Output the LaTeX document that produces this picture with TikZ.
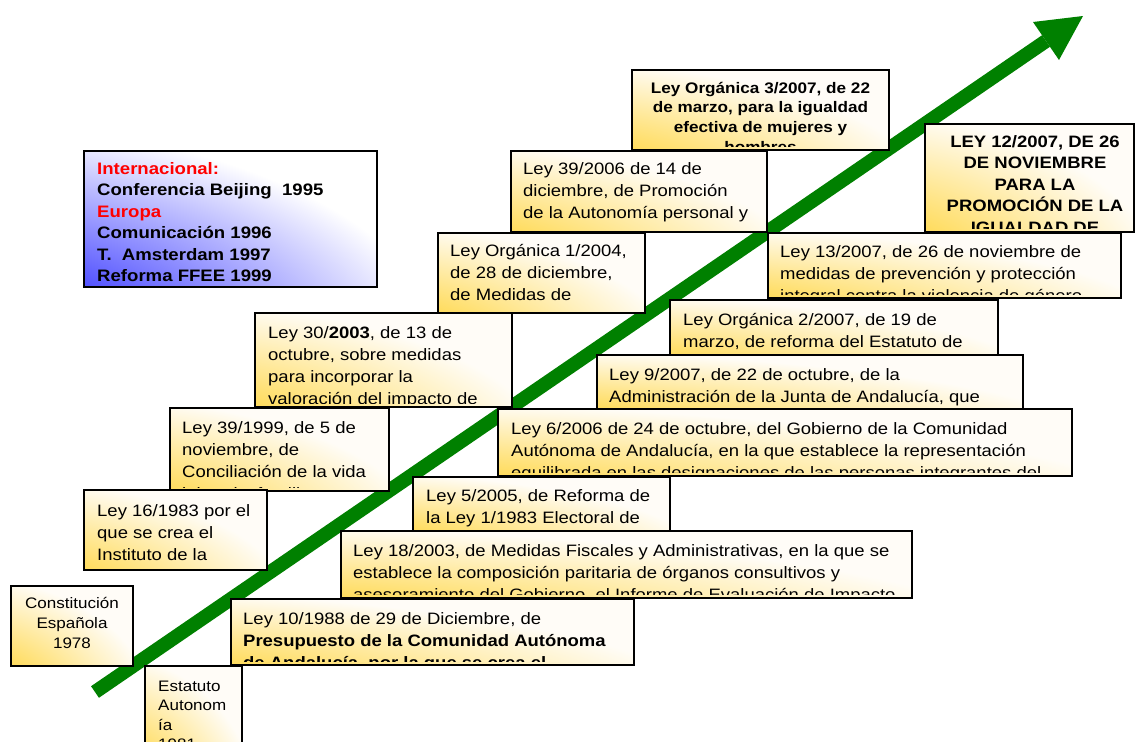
\documentclass[tikz,border=0pt]{standalone}
\usepackage{fontspec}
\setmainfont{Liberation Sans}[FakeStretch=1.12]
\usetikzlibrary{arrows.meta}
\definecolor{arrowgreen}{RGB}{0,128,0}
\definecolor{infored}{RGB}{255,0,0}
% gold glow from the lower left corner to a creamy white
\pgfdeclarefunctionalshading{goldcorner}{\pgfpoint{-50bp}{-50bp}}{\pgfpoint{50bp}{50bp}}{}{
  50 add 100 div dup mul exch 50 add 100 div dup mul add sqrt
  0.75 div 1.1 exch sub dup 0 lt {pop 0} if dup 1 gt {pop 1} if
  dup 0.206 mul 0.99 exch sub exch 0.97 mul 0.97 exch sub 1 3 1 roll}
% blue glow from the lower left corner to white
\pgfdeclarefunctionalshading{bluecorner}{\pgfpoint{-50bp}{-50bp}}{\pgfpoint{50bp}{50bp}}{}{
  50 add 100 div dup mul exch 50 add 100 div dup mul add sqrt
  0.75 div 1.15 exch sub dup 0 lt {pop 0} if dup 1 gt {pop 1} if
  1 exch sub dup 1}
\tikzset{
  boxframe/.style={draw=black, line width=1.6pt, inner sep=0pt, outer sep=0pt},
  lt/.style={anchor=north west, inner sep=0pt, align=left, font=\fontsize{16.5}{22}\selectfont},
  infot/.style={anchor=north west, inner sep=0pt, align=left, font=\bfseries\fontsize{16.6}{21.5}\selectfont},
  ct/.style={anchor=north, inner sep=0pt, align=center},
}
% #1 name, #2 left, #3 top, #4 right, #5 bottom, #6 shading, #7 text style, #8 first baseline point, #9 text
\newcommand\lawbox[9]{%
  \node[boxframe, shading=#6, anchor=north west, minimum width={#4-#2}, minimum height={#5-#3}] (#1) at (#2,#3) {};
  \begin{scope}
    \clip (#2,#3) rectangle (#4,#5-3.5);
    \node[#7, yshift=16pt] (#1-text) at (#8) {\rule{0pt}{16pt}#9};
  \end{scope}}
\begin{document}
\begin{tikzpicture}[x=1pt, y=-1pt]
\fill[white] (0,0) rectangle (1136,742);
\useasboundingbox (0,0) rectangle (1136,742);
% arrow (behind boxes)
\coordinate (astart) at (95,692);
\coordinate (abase) at (1046,41);
\coordinate (atip) at (1083,16);
\draw[arrowgreen, line width=14pt] (astart) -- (abase);
\fill[arrowgreen] (1033,22) -- (atip) -- (1059,60) -- cycle;

\lawbox{info}{84}{151}{377}{287}{bluecorner}{infot}{97,174}{%
{\color{infored}Internacional:}\\
Conferencia Beijing\ \ 1995\\
{\color{infored}Europa}\\
Comunicación 1996\\
T.\ \ Amsterdam 1997\\
Reforma FFEE 1999}

\lawbox{lo3}{632}{70}{889}{150}{goldcorner}{ct, font=\bfseries\fontsize{15.3}{19.7}\selectfont}{760.5,93}{%
Ley Orgánica 3/2007, de 22\\
de marzo, para la igualdad\\
efectiva de mujeres y\\
hombres}

\lawbox{l12}{925}{124}{1134}{232}{goldcorner}{ct, font=\bfseries\fontsize{16.5}{21.5}\selectfont}{1035,147}{%
LEY 12/2007, DE 26\\
DE NOVIEMBRE\\
PARA LA\\
PROMOCIÓN DE LA\\
IGUALDAD DE}

\lawbox{l3906}{511}{151}{767}{232}{goldcorner}{lt}{523,174}{%
Ley 39/2006 de 14 de\\
diciembre, de Promoción\\
de la Autonomía personal y}

\lawbox{lo1}{438}{233}{645}{313}{goldcorner}{lt}{450,256}{%
Ley Orgánica 1/2004,\\
de 28 de diciembre,\\
de Medidas de}

\lawbox{l13}{768}{233}{1121}{298}{goldcorner}{lt}{780,257}{%
Ley 13/2007, de 26 de noviembre de\\
medidas de prevención y protección\\
integral contra la violencia de género}

\lawbox{l30}{255}{313}{512}{407}{goldcorner}{lt}{268,338}{%
Ley 30/\textbf{2003}, de 13 de\\
octubre, sobre medidas\\
para incorporar la\\
valoración del impacto de}

\lawbox{lo2}{670}{300}{998}{355}{goldcorner}{lt}{683,325}{%
Ley Orgánica 2/2007, de 19 de\\
marzo, de reforma del Estatuto de}

\lawbox{l9}{597}{355}{1023}{409}{goldcorner}{lt}{609,380}{%
Ley 9/2007, de 22 de octubre, de la\\
Administración de la Junta de Andalucía, que}

\lawbox{l3999}{170}{408}{389}{491}{goldcorner}{lt}{182,433}{%
Ley 39/1999, de 5 de\\
noviembre, de\\
Conciliación de la vida\\
laboral y familiar}

\lawbox{l6}{498}{409}{1072}{476}{goldcorner}{lt}{511,434}{%
Ley 6/2006 de 24 de octubre, del Gobierno de la Comunidad\\
Autónoma de Andalucía, en la que establece la representación\\
equilibrada en las designaciones de las personas integrantes del}

\lawbox{l16}{84}{490}{267}{570}{goldcorner}{lt}{97,516}{%
Ley 16/1983 por el\\
que se crea el\\
Instituto de la}

\lawbox{l5}{413}{477}{670}{531}{goldcorner}{lt}{426,501}{%
Ley 5/2005, de Reforma de\\
la Ley 1/1983 Electoral de}

\lawbox{l18}{341}{531}{912}{598}{goldcorner}{lt}{353,556}{%
Ley 18/2003, de Medidas Fiscales y Administrativas, en la que se\\
establece la composición paritaria de órganos consultivos y\\
asesoramiento del Gobierno, el Informe de Evaluación de Impacto}

\lawbox{const}{11}{586}{133}{666}{goldcorner}{ct, font=\fontsize{15.2}{20}\selectfont}{72,608}{%
Constitución\\
Española\\
1978}

\lawbox{l10}{231}{599}{634}{665}{goldcorner}{lt}{243,624}{%
Ley 10/1988 de 29 de Diciembre, de\\
\textbf{Presupuesto de la Comunidad Autónoma}\\
\textbf{de Andalucía, por la que se crea el}}

\lawbox{estatuto}{145}{666}{242}{760}{goldcorner}{lt, font=\fontsize{15.2}{19.5}\selectfont}{158,691}{%
Estatuto\\
Autonom\\
ía\\
1981}
\end{tikzpicture}
\end{document}
